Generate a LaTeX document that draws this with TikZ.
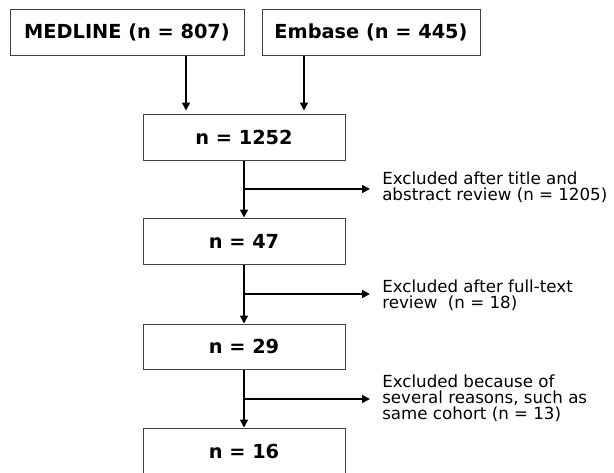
\documentclass[tikz,border=0pt]{standalone}
\usepackage{fontspec}
\setmainfont{DejaVu Sans}
\usetikzlibrary{arrows.meta}
\begin{document}
\begin{tikzpicture}[x=0.75pt,y=-0.75pt,
  box/.style={draw=black!75,line width=0.75pt,inner sep=0pt,
    font=\fontsize{14.5}{17}\selectfont\bfseries},
  mid/.style={box,minimum width=202*0.75pt,minimum height=46*0.75pt},
  arr/.style={line width=1.2pt,-{Triangle[length=6pt,width=6pt]}},
  lbl/.style={anchor=west,inner sep=0pt,align=left,
    font=\fontsize{12.5}{12}\selectfont}]
\useasboundingbox (0,0) rectangle (614,472);
\node[box,minimum width=234*0.75pt,minimum height=46*0.75pt] (med) at (127,32) {MEDLINE (n = 807)};
\node[box,minimum width=218*0.75pt,minimum height=46*0.75pt] (emb) at (371,32) {Embase (n = 445)};
\node[mid] (n1) at (244,137) {n = 1252};
\node[mid] (n2) at (244,241) {n = 47};
\node[mid,minimum height=45*0.75pt] (n3) at (244,346.5) {n = 29};
\node[mid] (n4) at (244,451) {n = 16};
\draw[arr,shorten >=3*0.75pt] ([xshift=59*0.75pt]med.south) -- ([xshift=59*0.75pt]med.south |- n1.north);
\draw[arr,shorten >=3*0.75pt] ([xshift=-67*0.75pt]emb.south) -- ([xshift=-67*0.75pt]emb.south |- n1.north);
\draw[arr] (n1) -- (n2);
\draw[arr] (n2) -- (n3);
\draw[arr] (n3) -- (n4);
\coordinate (e1) at (370,189);
\coordinate (e2) at (370,294);
\coordinate (e3) at (370,399);
\draw[arr] (n1.south |- e1) -- (e1);
\draw[arr] (n2.south |- e2) -- (e2);
\draw[arr] (n3.south |- e3) -- (e3);
\node[lbl] (l1) at (382,187) {Excluded after title and\\abstract review (n = 1205)};
\node[lbl] (l2) at (382,295) {Excluded after full-text\\review\ \ (n = 18)};
\node[lbl] (l3) at (382,398) {Excluded because of\\several reasons, such as\\same cohort (n = 13)};
\end{tikzpicture}
\end{document}
